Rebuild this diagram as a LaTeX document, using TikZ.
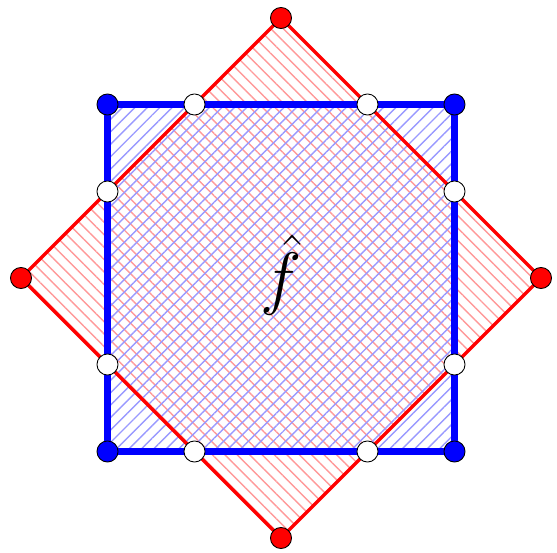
\documentclass[tikz,border=0pt]{standalone}
\usetikzlibrary{patterns.meta}
\tikzset{
  dot/.style={circle, draw=black, line width=0.5pt, inner sep=0pt, minimum size=12pt},
  bluehatch/.style={pattern={Lines[angle=45,distance=5pt,line width=0.8pt]}, pattern color=blue!40},
  redhatch/.style={pattern={Lines[angle=-45,distance=5pt,line width=0.8pt]}, pattern color=red!40},
}
\begin{document}
\begin{tikzpicture}[x=0.02cm, y=0.02cm]
	\useasboundingbox (-281,-275) rectangle (276,278);
	% --- Ecken ---
	\coordinate (b1) at (-173.5,-173.5);
	\coordinate (b2) at (173.5,-173.5);
	\coordinate (b3) at (173.5,173.5);
	\coordinate (b4) at (-173.5,173.5);
	\coordinate (r1) at (0,-260);
	\coordinate (r2) at (260,0);
	\coordinate (r3) at (0,260);
	\coordinate (r4) at (-260,0);

	% --- Flaechen ---
	\fill[redhatch] (r1) -- (r2) -- (r3) -- (r4) -- cycle;
	\fill[bluehatch] (b1) -- (b2) -- (b3) -- (b4) -- cycle;
	\draw[blue, line width=4pt] (b1) -- (b2) -- (b3) -- (b4) -- cycle;
	\draw[red, line width=2pt, line join=round] (r1) -- (r2) -- (r3) -- (r4) -- cycle;
	\node[scale=1.6] (f) at (0,3) {\Huge $\hat{f}$};

	% --- Punkte ---
	\foreach \p in {b1,b2,b3,b4}
		\node[dot, fill=blue] (n\p) at (\p) {};
	\foreach \p in {r1,r2,r3,r4}
		\node[dot, fill=red] (n\p) at (\p) {};
	\foreach \x/\y [count=\i] in {-86.5/173.5, 86.5/173.5, 173.5/86.5, 173.5/-86.5, 86.5/-173.5, -86.5/-173.5, -173.5/-86.5, -173.5/86.5}
		\node[dot, fill=white] (s\i) at (\x,\y) {};
\end{tikzpicture}
\end{document}
